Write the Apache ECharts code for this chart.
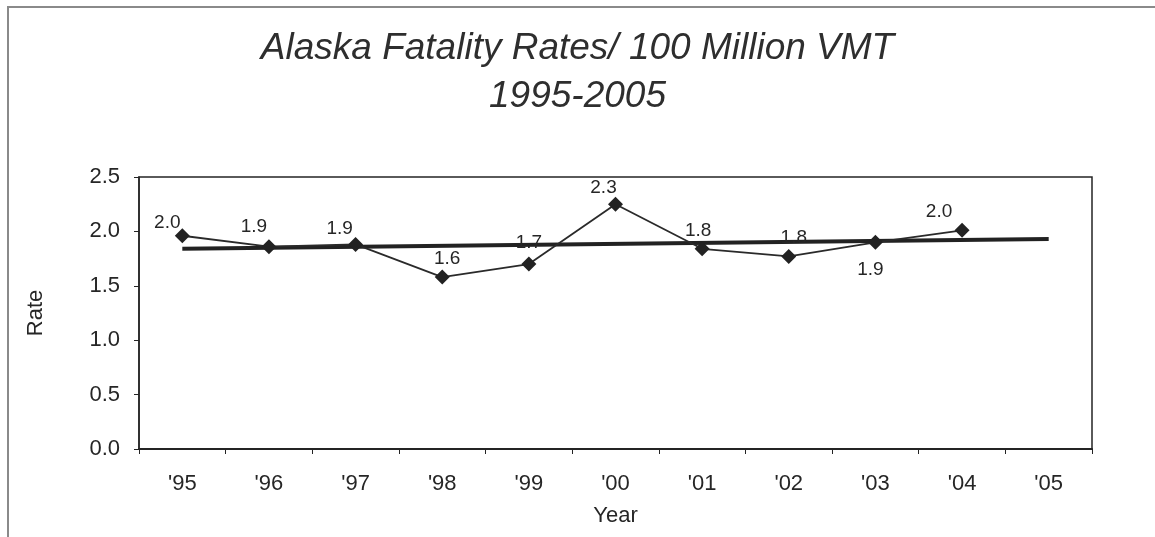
<!DOCTYPE html>
<html>
<head>
<meta charset="utf-8">
<title>Alaska Fatality Rates</title>
<script src="https://cdn.jsdelivr.net/npm/echarts@6/dist/echarts.min.js"></script>
<style>
  html, body { margin: 0; padding: 0; background: #ffffff; }
  #chart { width: 1155px; height: 537px; }
</style>
</head>
<body>
<div id="chart"></div>
<script>
// Year categories shown on the x axis
const years = ["'95", "'96", "'97", "'98", "'99", "'00", "'01", "'02", "'03", "'04", "'05"];
// Fatality rate per 100 million vehicle miles travelled ('05 not yet reported)
const rates = [1.96, 1.86, 1.88, 1.58, 1.70, 2.25, 1.84, 1.77, 1.90, 2.01, null];
// Linear trend line end values at '95 and '05
const trendEnds = [1.84, 1.93];
// Y axis tick values
const rateTicks = [0, 0.5, 1.0, 1.5, 2.0, 2.5];

// Per-point label nudges (pixels from the marker centre)
const labelNudge = [
  [-15, -13], [-15, -20], [-16, -16], [5, -18], [0, -21],
  [-12, -16], [-4, -18], [5, -19], [-5, 27], [-23, -19]
];

const ink = '#242424';
const textInk = '#262626';
const font = 'Liberation Sans, Arial, Helvetica, sans-serif';

const chart = echarts.init(document.getElementById('chart'), null, { renderer: 'canvas' });

const pointData = rates.map((v, i) => {
  if (v == null) return null;
  return {
    value: v,
    label: {
      show: true,
      position: 'inside',
      offset: labelNudge[i],
      formatter: () => v.toFixed(1)
    }
  };
});

chart.setOption({
  backgroundColor: '#ffffff',
  animation: false,
  title: {
    text: 'Alaska Fatality Rates/ 100 Million VMT\n1995-2005',
    left: 'center',
    top: 20,
    textStyle: {
      fontFamily: font,
      fontStyle: 'italic',
      fontWeight: 'normal',
      fontSize: 37,
      lineHeight: 48,
      color: '#2e2e2e'
    }
  },
  graphic: [
    {
      type: 'polyline',
      shape: { points: [[8, 537], [8, 7], [1155, 7]] },
      style: { stroke: '#8a8a8a', lineWidth: 2, fill: null },
      silent: true
    }
  ],
  grid: {
    left: 139,
    right: 63,
    top: 177,
    bottom: 88,
    show: true,
    borderColor: ink,
    borderWidth: 1.5,
    backgroundColor: 'transparent'
  },
  xAxis: {
    type: 'category',
    data: years,
    boundaryGap: true,
    name: 'Year',
    nameLocation: 'middle',
    nameGap: 56,
    nameTextStyle: { fontFamily: font, fontSize: 22, color: textInk },
    axisLine: { show: true, lineStyle: { color: ink, width: 2 } },
    axisTick: { show: true, interval: 0, length: 5, lineStyle: { color: ink, width: 1 } },
    axisLabel: {
      interval: 0,
      margin: 24,
      fontFamily: font,
      fontSize: 22,
      color: textInk
    },
    splitLine: { show: false }
  },
  yAxis: {
    type: 'value',
    min: rateTicks[0],
    max: rateTicks[rateTicks.length - 1],
    interval: rateTicks[1] - rateTicks[0],
    name: 'Rate',
    nameLocation: 'middle',
    nameGap: 92,
    nameRotate: 90,
    nameTextStyle: { fontFamily: font, fontSize: 22, color: textInk },
    axisLine: { show: true, lineStyle: { color: ink, width: 1.5 } },
    axisTick: { show: true, length: 5, lineStyle: { color: ink, width: 1 } },
    axisLabel: {
      margin: 19,
      fontFamily: font,
      fontSize: 22,
      color: textInk,
      formatter: v => v.toFixed(1)
    },
    splitLine: { show: false }
  },
  series: [
    {
      name: 'Trend',
      type: 'line',
      data: [[years[0], trendEnds[0]], [years[years.length - 1], trendEnds[1]]],
      symbol: 'none',
      lineStyle: { color: '#222222', width: 4 },
      z: 2,
      silent: true
    },
    {
      name: 'Rate',
      type: 'line',
      data: pointData,
      symbol: 'diamond',
      symbolSize: [15, 15],
      itemStyle: { color: '#222222' },
      lineStyle: { color: '#2a2a2a', width: 1.8 },
      label: {
        fontFamily: font,
        fontSize: 19,
        color: textInk
      },
      z: 3
    }
  ]
});
</script>
</body>
</html>
